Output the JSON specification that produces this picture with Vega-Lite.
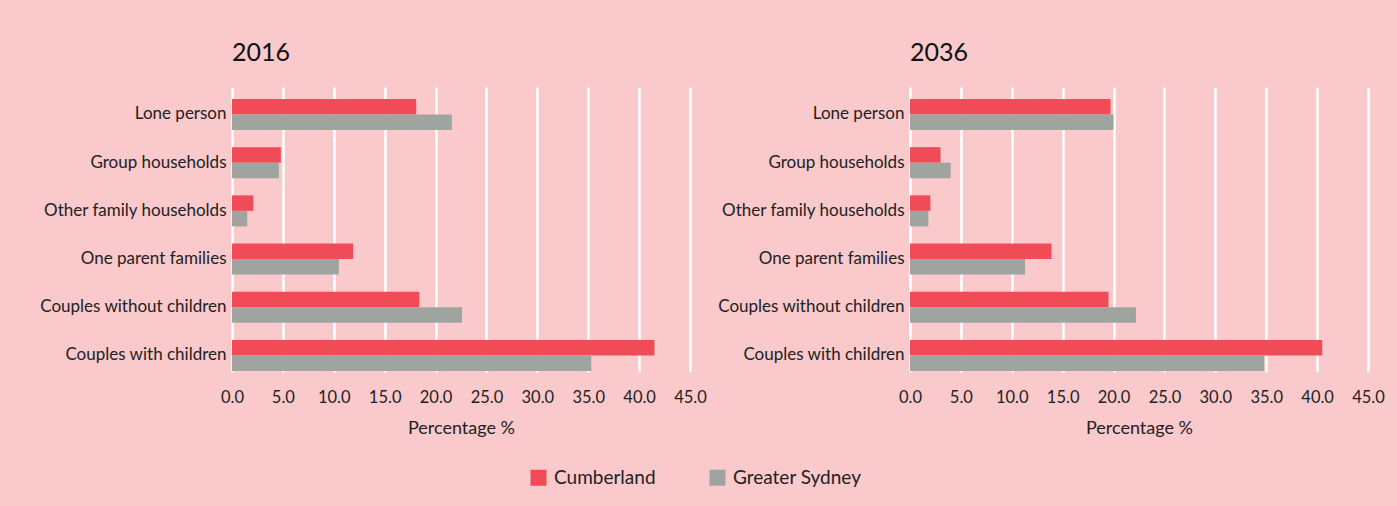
{
  "$schema": "https://vega.github.io/schema/vega-lite/v6.json",
  "background": "#f9c9cb",
  "padding": {"left": 39, "top": 41, "right": 16, "bottom": 21},
  "datasets": {
    "d": [
      {"year": 2016, "type": "Lone person", "region": "Cumberland", "pct": 18.1},
      {"year": 2016, "type": "Lone person", "region": "Greater Sydney", "pct": 21.6},
      {"year": 2016, "type": "Group households", "region": "Cumberland", "pct": 4.8},
      {"year": 2016, "type": "Group households", "region": "Greater Sydney", "pct": 4.6},
      {"year": 2016, "type": "Other family households", "region": "Cumberland", "pct": 2.1},
      {"year": 2016, "type": "Other family households", "region": "Greater Sydney", "pct": 1.5},
      {"year": 2016, "type": "One parent families", "region": "Cumberland", "pct": 11.9},
      {"year": 2016, "type": "One parent families", "region": "Greater Sydney", "pct": 10.5},
      {"year": 2016, "type": "Couples without children", "region": "Cumberland", "pct": 18.4},
      {"year": 2016, "type": "Couples without children", "region": "Greater Sydney", "pct": 22.6},
      {"year": 2016, "type": "Couples with children", "region": "Cumberland", "pct": 41.5},
      {"year": 2016, "type": "Couples with children", "region": "Greater Sydney", "pct": 35.3},
      {"year": 2036, "type": "Lone person", "region": "Cumberland", "pct": 19.7},
      {"year": 2036, "type": "Lone person", "region": "Greater Sydney", "pct": 20.0},
      {"year": 2036, "type": "Group households", "region": "Cumberland", "pct": 3.0},
      {"year": 2036, "type": "Group households", "region": "Greater Sydney", "pct": 4.0},
      {"year": 2036, "type": "Other family households", "region": "Cumberland", "pct": 2.0},
      {"year": 2036, "type": "Other family households", "region": "Greater Sydney", "pct": 1.8},
      {"year": 2036, "type": "One parent families", "region": "Cumberland", "pct": 13.9},
      {"year": 2036, "type": "One parent families", "region": "Greater Sydney", "pct": 11.3},
      {"year": 2036, "type": "Couples without children", "region": "Cumberland", "pct": 19.5},
      {"year": 2036, "type": "Couples without children", "region": "Greater Sydney", "pct": 22.2},
      {"year": 2036, "type": "Couples with children", "region": "Cumberland", "pct": 40.5},
      {"year": 2036, "type": "Couples with children", "region": "Greater Sydney", "pct": 34.8}
    ]
  },
  "spacing": 10,
  "hconcat": [
    {
      "width": 458,
      "height": 285,
      "title": {"text": "2016"},
      "data": {"name": "d"},
      "transform": [{"filter": "datum.year == 2016"}],
      "mark": {"type": "bar"},
      "encoding": {
        "y": {"field": "type", "type": "nominal", "sort": ["Lone person", "Group households", "Other family households", "One parent families", "Couples without children", "Couples with children"], "scale": {"paddingInner": 0.357, "paddingOuter": 0.135, "align": 0.92}, "axis": {"title": null}},
        "yOffset": {"field": "region", "sort": ["Cumberland", "Greater Sydney"], "scale": {"paddingInner": 0, "paddingOuter": 0}},
        "x": {"field": "pct", "type": "quantitative", "scale": {"domain": [0, 45]}, "axis": {"values": [0, 5, 10, 15, 20, 25, 30, 35, 40, 45], "format": ".1f", "title": "Percentage %"}},
        "color": {"field": "region", "type": "nominal", "scale": {"domain": ["Cumberland", "Greater Sydney"], "range": ["#f04b57", "#9fa49f"]}, "legend": {"title": null, "orient": "none", "direction": "horizontal", "legendX": 297, "legendY": 381}}
      }
    },
    {
      "width": 458,
      "height": 285,
      "title": {"text": "2036"},
      "data": {"name": "d"},
      "transform": [{"filter": "datum.year == 2036"}],
      "mark": {"type": "bar"},
      "encoding": {
        "y": {"field": "type", "type": "nominal", "sort": ["Lone person", "Group households", "Other family households", "One parent families", "Couples without children", "Couples with children"], "scale": {"paddingInner": 0.357, "paddingOuter": 0.135, "align": 0.92}, "axis": {"title": null}},
        "yOffset": {"field": "region", "sort": ["Cumberland", "Greater Sydney"], "scale": {"paddingInner": 0, "paddingOuter": 0}},
        "x": {"field": "pct", "type": "quantitative", "scale": {"domain": [0, 45]}, "axis": {"values": [0, 5, 10, 15, 20, 25, 30, 35, 40, 45], "format": ".1f", "title": "Percentage %"}},
        "color": {"field": "region", "type": "nominal", "scale": {"domain": ["Cumberland", "Greater Sydney"], "range": ["#f04b57", "#9fa49f"]}, "legend": {"title": null, "orient": "none", "direction": "horizontal", "legendX": 297, "legendY": 381}}
      }
    }
  ],
  "config": {
    "font": "Lato",
    "view": {"stroke": null},
    "title": {"anchor": "start", "frame": "group", "fontSize": 25, "fontWeight": "normal", "color": "#111111", "font": "Lato", "offset": 21},
    "axis": {"domain": false, "ticks": false, "tickSize": 0, "labelFont": "Lato", "labelFontSize": 16.5, "labelColor": "#222222", "titleFont": "Lato", "titleFontSize": 18, "titleFontWeight": "normal", "titleColor": "#222222"},
    "axisX": {"grid": true, "gridColor": "#ffffff", "gridWidth": 2.5, "gridOpacity": 1, "labelPadding": 17, "titlePadding": 14, "labelFlush": false, "labelOverlap": false},
    "axisY": {"grid": false, "labelPadding": 6, "labelFontSize": 17, "labelLimit": 400},
    "legend": {"symbolType": "square", "symbolSize": 256, "symbolStrokeWidth": 0, "symbolOpacity": 1, "labelFont": "Lato", "labelFontSize": 19, "labelColor": "#222222", "columnPadding": 52, "labelOffset": 6}
  }
}
